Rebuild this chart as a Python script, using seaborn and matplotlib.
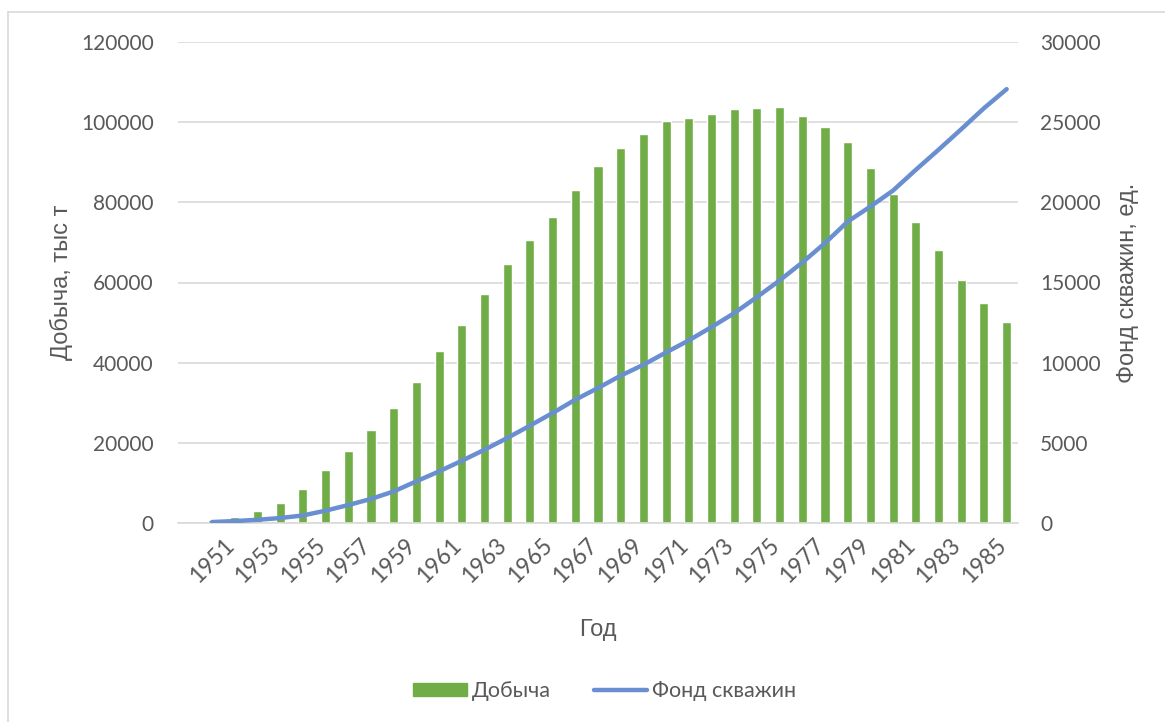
import matplotlib
matplotlib.use('Agg')
import matplotlib.pyplot as plt
import matplotlib.lines as mlines
import numpy as np
import pandas as pd
import seaborn as sns


years = [str(y) for y in range(1951, 1987)]

production = [800, 1500, 2900, 5100, 8600, 13300, 17900, 23200, 28600, 35200,
              42800, 49300, 57100, 64600, 70700, 76300, 83100, 89100, 93500, 97000,
              100300, 101100, 102100, 103200, 103600, 103700, 101600, 98800, 95100, 88600,
              82200, 75100, 68000, 60700, 54900, 50100]

wells = [60, 120, 200, 310, 470, 770, 1120, 1500, 1970, 2600,
         3220, 3880, 4570, 5300, 6070, 6860, 7690, 8420, 9190, 9870,
         10640, 11390, 12220, 13090, 14090, 15130, 16250, 17460, 18800, 19740,
         20740, 22030, 23280, 24560, 25870, 27060]

df = pd.DataFrame({'Год': years, 'Добыча': production, 'Фонд скважин': wells})
df['pos'] = np.arange(len(df))

sns.set_style('white')
plt.rcParams['font.family'] = ['Lato', 'DejaVu Sans']
text_color = '#595959'
green = '#70AD47'
blue = '#6A8FD1'

fig = plt.figure(figsize=(11.65, 7.22), dpi=100)
ax = fig.add_axes([178 / 1165, 1 - 523 / 722, 840 / 1165, 481 / 722])

sns.barplot(data=df, x='Год', y='Добыча', color=green, width=0.4,
            saturation=1, ax=ax, zorder=2)
ax.set_xlim(-1.5, len(years) - 0.5)
ax.set_ylim(0, 120000)
ax.set_yticks(range(0, 120001, 20000))
ax.yaxis.grid(True, color='#D9D9D9', linewidth=1.2, zorder=0)
ax.set_axisbelow(True)
for s in ['top', 'right', 'left']:
    ax.spines[s].set_visible(False)
ax.spines['bottom'].set_color('#D9D9D9')
ax.spines['bottom'].set_linewidth(1.2)

ax.set_xticks(df['pos'][::2])
ax.set_xticklabels(df['Год'][::2], rotation=45, ha='center')
ax.tick_params(axis='y', length=0, labelsize=15, labelcolor=text_color, pad=17.5)
ax.tick_params(axis='x', length=0, labelsize=16.5, labelcolor=text_color, pad=8)

ax.set_xlabel('Год', fontsize=17, color=text_color, family='Liberation Sans')
ax.set_ylabel('Добыча, тыс т', fontsize=17, color=text_color, family='Liberation Sans')
ax.xaxis.set_label_coords(0.5, -0.2)
ax.yaxis.set_label_coords(-0.125, 0.5)

ax2 = ax.twinx()
sns.lineplot(data=df, x='pos', y='Фонд скважин', color=blue, linewidth=3.2,
             ax=ax2, solid_capstyle='round')
ax2.set_ylim(0, 30000)
ax2.set_yticks(range(0, 30001, 5000))
for s in ax2.spines.values():
    s.set_visible(False)
ax2.tick_params(axis='y', length=0, labelsize=15, labelcolor=text_color, pad=16)
ax2.set_ylabel('Фонд скважин, ед.', fontsize=17, color=text_color, family='Liberation Sans')
ax2.yaxis.set_label_coords(1.118, 0.5)
ax2.set_xlabel('')

bar_handle = plt.Rectangle((0, 0), 1, 1, color=green)
line_handle = mlines.Line2D([], [], color=blue, linewidth=3.2, solid_capstyle='round')
fig.legend([bar_handle, line_handle], ['Добыча', 'Фонд скважин'],
           loc='center', bbox_to_anchor=(0.519, 0.043), ncol=2, frameon=False,
           fontsize=15.5, labelcolor=text_color, handlelength=2.5, handleheight=0.6,
           handletextpad=0.2, columnspacing=2.0)

# chart area border (top and left edges visible)
fig.add_artist(mlines.Line2D([8 / 1165, 8 / 1165], [0, 1 - 12 / 722],
                             color='#D9D9D9', linewidth=1.2, transform=fig.transFigure))
fig.add_artist(mlines.Line2D([8 / 1165, 1], [1 - 12 / 722, 1 - 12 / 722],
                             color='#D9D9D9', linewidth=1.2, transform=fig.transFigure))

fig.savefig('out.png', dpi=100)
